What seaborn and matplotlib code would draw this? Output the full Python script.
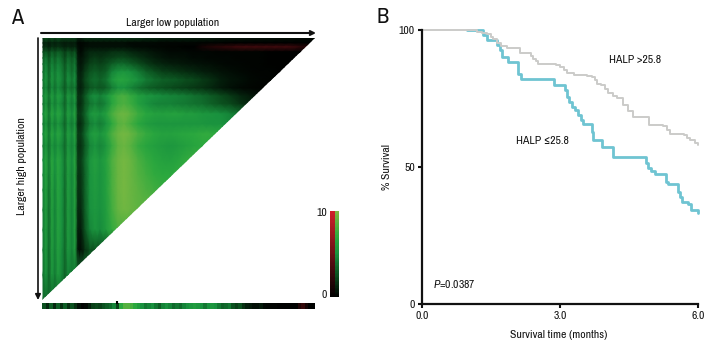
import numpy as np
import pandas as pd
import seaborn as sns
import matplotlib
matplotlib.use('Agg')
import matplotlib.pyplot as plt
from matplotlib.colors import LinearSegmentedColormap
from matplotlib.patches import Polygon

sns.set_theme(style='white')
plt.rcParams['font.family'] = ['Archivo Narrow', 'Liberation Sans', 'DejaVu Sans']
plt.rcParams['mathtext.fontset'] = 'custom'
plt.rcParams['mathtext.rm'] = 'Archivo Narrow'
plt.rcParams['mathtext.it'] = 'Archivo Narrow:italic'

# panel A, x-tile grid: cut positions along both sides of the triangle
low_cut = [43, 46, 49, 52, 55, 58, 62, 65, 68, 72, 75, 78, 81, 85, 90, 95, 100, 106, 112, 118, 124,
           130, 138, 146, 154, 162, 170, 178, 186, 194, 202, 210, 220, 230, 240, 250, 260, 270, 280, 290, 300, 315]
high_cut = [38, 43, 47, 52, 58, 64, 72, 80, 88, 96, 104, 114, 124, 134, 146, 160, 175, 190, 210, 230, 250, 275, 300]

# chi-square per cell, negative = red side of the scale
xtile_rows = [
    [2, 2.5, 2, 2.5, 2, 2.5, 2, 2, 2, 2, 2, 1, 1, 1.5, 1.5, 1.5, 1.5, 1.5, 1.5, 1.5, 1.5, 1.5, 1.5, 1.2, 1.2, 1, 1, 1, 1, .8, .8, .8, .6, .6, .6, .5, .5, .5, .4, .4, .3, .3],
    [1, 1.2, .8, 1.2, 1, 1.2, 1, .8, 1, .8, 1, .3, .2, .3, .4, .4, .4, .4, .4, .4, .4, .3, .3, .3, .3, .2, .2, .2, .2, .2, .1, .1, .1, 0, 0, 0, 0, 0, 0, 0, 0],
    [1.2, 1.5, 1, 1.5, 1.2, 1.5, 1.2, 1, 1.2, 1, 1.2, .4, .2, .4, .5, .5, .5, .5, .5, .5, .5, .4, .3, .3, .2, .2, .1, .1, 0, 0, -1, -1.5, -2, -2.5, -3, -3, -3, -3, -3, -3, -2],
    [2.2, 2.8, 2, 3, 2.3, 3, 2.5, 1.8, 2.6, 2, 2.6, .6, .3, .8, 1.2, 1.2, 1.2, 1.2, 1.5, 1.5, 1.5, 1.2, 1, .8, .6, .4, .3, .3, .3, .2, .2, .2, .1, .1, .1, .1, .1, 0, 0, 0, 0],
    [3, 4, 2.5, 4, 3, 4, 3.2, 2.2, 3.5, 2.8, 3.5, .8, .6, 1, 1.5, 1.8, 1.5, 1.8, 2, 2.2, 2.2, 2, 1.6, 1.2, .9, .7, .5, .5, .4, .3, .3, .2, .2, .2, .1, .1, .1, 0, 0, 0, 0],
    [3.5, 4.5, 3, 4.5, 3.5, 4.5, 3.8, 2.6, 4, 3.2, 4, 1, .7, 1.3, 2, 2.2, 2, 2.3, 3, 3.5, 3.5, 3, 2.4, 1.8, 1.4, 1.1, .9, .8, .7, .6, .5, .4, .3, .2, .2, .1, .1, 0, 0, 0],
    [3.5, 5, 3.2, 5, 4, 5, 4.2, 3, 4.5, 3.5, 4.5, 1.2, 1, 1.8, 2.6, 3, 2.6, 3, 4.5, 5.2, 5.5, 5, 4.2, 3.2, 2.5, 2, 1.8, 1.6, 1.4, 1.2, 1, .8, .6, .4, .3, .2, .1, .1, 0, 0],
    [4, 5.5, 3.5, 5.5, 4.2, 5.5, 4.5, 3.2, 5, 4, 5, 1.4, 1.2, 2.2, 3.2, 3.6, 3.2, 3.8, 5.5, 6.5, 6.5, 6, 5, 4.2, 3.6, 3.2, 3, 2.8, 2.4, 2.2, 1.8, 1.5, 1, .7, .5, .3, .2, .1, .1],
    [3.6, 4.8, 3, 4.8, 3.6, 4.8, 3.8, 2.8, 4.2, 3.4, 4.2, 1.2, 1, 1.8, 2.6, 3, 2.6, 3, 4.2, 5, 5.2, 4.6, 3.8, 3.2, 2.8, 2.5, 2.3, 2.1, 1.9, 1.7, 1.5, 1.2, .8, .5, .3, .2, .1, .1],
    [4.5, 6, 4, 6.2, 4.5, 6.2, 5, 3.5, 5.8, 4.5, 6, 1.6, 1.6, 2.8, 4.4, 5, 4.4, 5.2, 6.8, 7.8, 8.2, 7.4, 6.2, 5.6, 5.2, 4.8, 4.6, 4.4, 4.2, 3.8, 3.5, 3, 2.4, 1.8, 1.2, .8, .5],
    [3.8, 5.4, 3.4, 5.4, 4.2, 5.4, 4.4, 3.2, 5, 4, 5, 1.4, 1.4, 2.6, 3.8, 4.4, 3.8, 4.6, 6.6, 7.8, 8.2, 7.6, 6.2, 5.2, 4.6, 4.4, 4.4, 4.2, 4, 3.8, 3.6, 3.2, 2.6, 2.2, 1.6, 1.1],
    [4.8, 6.6, 4.2, 6.8, 5, 6.8, 5.4, 3.8, 6.2, 4.8, 6.6, 1.8, 1.9, 3.2, 5.2, 6, 5.2, 6.2, 8, 9, 9.3, 8.8, 7.6, 6.8, 6.4, 6.2, 6.4, 6.4, 6, 6, 5.6, 5.4, 5, 4.5, 3.8],
    [4, 5.4, 3.6, 5.4, 4.2, 5.4, 4.4, 3.2, 5, 4, 5.2, 1.4, 1.4, 2.6, 4.2, 4.8, 4.2, 5, 7, 8.4, 8.8, 8, 6.8, 6, 5.6, 5.4, 5.4, 5.4, 5.4, 5.4, 5.4, 5.2, 5.2, 4.8],
    [4.8, 6.6, 4.2, 6.8, 5, 6.8, 5.4, 3.8, 6.2, 4.8, 6.6, 1.8, 1.9, 3.4, 5.4, 6.2, 5.4, 6.4, 8.2, 9.2, 9.6, 9.2, 8.2, 7.4, 6.8, 6.4, 6.4, 6.6, 6.8, 7, 7.2, 7.2, 7],
    [4.2, 5.6, 3.8, 5.6, 4.5, 5.6, 4.6, 3.4, 5.4, 4.4, 5.6, 1.5, 1.5, 2.8, 4.6, 5.2, 4.6, 5.4, 7.4, 8.8, 9.2, 8.6, 7.4, 6.6, 6.2, 5.8, 5.6, 5.8, 6.2, 6.6, 7, 7],
    [4.8, 6.6, 4.2, 6.8, 5, 6.8, 5.4, 3.8, 6.2, 4.8, 6.6, 1.8, 1.9, 3.4, 5.4, 6.2, 5.4, 6.4, 8.2, 9.2, 9.6, 9.2, 8.2, 7.4, 6.8, 6.4, 6.2, 6.6, 7.2, 7.6],
    [4.5, 6.4, 4, 6.6, 4.8, 6.6, 5.2, 3.6, 6, 4.6, 6.4, 1.6, 1.7, 3.2, 5.2, 6, 5.2, 6.2, 8, 9.2, 9.6, 9.2, 8.4, 7.8, 7.2, 7, 7, 7.2],
    [4.4, 6.2, 3.8, 6.4, 4.6, 6.6, 5.2, 3.5, 6, 4.6, 6.4, 1.5, 1.6, 3.2, 5.2, 5.8, 5.2, 6.2, 8, 9.2, 9.6, 9.2, 8.7, 8.2, 7.8, 7.4],
    [4.2, 6, 3.6, 6.2, 4.5, 6.4, 5, 3.5, 5.8, 4.5, 6.2, 1.3, 1.3, 3, 5, 5.6, 5, 6, 7.8, 9, 9.4, 9.2, 8.8],
    [4.2, 6, 3.6, 6.2, 4.5, 6.4, 5, 3.5, 5.8, 4.5, 6.2, 1, .9, 2.6, 4.6, 5.4, 4.8, 5.8, 7.2, 8.2],
    [4, 5.8, 3.5, 6, 4.4, 6.2, 4.8, 3.4, 5.6, 4.4, 5.8, .6, .4, 1.5, 2.5, 2.5],
    [3.8, 5.4, 3.4, 5.6, 4.2, 5.8, 4.5, 3.2, 4.5, 4],
    [3.5],
]

# strip under the triangle
strip_values = [2.5, 1.2, 3, 1.2, 3, 1.5, 3, 1.5, 2.5, 1.5,
                .5, .1, .3,
                1, 2, 2.2, 2, 2.5, 3, 3.5, 4.5,
                2,
                7, 8.5, 8.5, 8, 7, 6,
                5, 4, 4.5, 5, 4, 3, 4.5, 5, 4.5, 3.5, 4, 3.5, 4.5, 5, 5.5, 6, 5.5, 5, 4, 5, 5.5, 5, 4, 3.2, 3.5, 4, 2.5, 2, 2.5, 1.5,
                1, .8, .5, .5, .8, .3, .2, .1, .1,
                0, 0, .05, 0, 0, 0, -1.5, -2.5, -1, 0, 0]

# panel B, survival curves
high_time = [0, 1.19, 1.3, 1.41, 1.5, 1.55, 1.63, 1.72, 1.84, 2.06, 2.13, 2.31, 2.37, 2.42, 2.48, 2.53, 2.82, 2.92, 3.0, 3.08,
             3.15, 3.3, 3.58, 3.69, 3.75, 3.80, 3.90, 3.98, 4.05, 4.14, 4.23, 4.37, 4.48, 4.59, 4.88, 4.94, 5.24, 5.32, 5.39,
             5.68, 5.75, 5.82, 5.92, 6.0]
high_surv = [100, 99.2, 98.8, 98.2, 97.4, 96.4, 94.9, 94, 93.3, 93.1, 91.6, 91.5, 90.5, 89.4, 88.5, 87.6, 87.4, 87, 86.4, 85.3,
             84.2, 83.5, 83, 82.8, 81.5, 80.3, 79.7, 78.3, 76.7, 75.8, 74.9, 72.4, 70.3, 68.2, 68.2, 65.1, 64.9, 63.5, 62.1,
             61.5, 60.6, 59.7, 58.8, 57.9]
low_time = [.98, 1.28, 1.34, 1.41, 1.60, 1.63, 1.70, 1.74, 1.88, 2.02, 2.08, 2.15, 2.84, 2.87, 3.02, 3.10, 3.15, 3.20, 3.25, 3.32,
            3.40, 3.45, 3.49, 3.67, 3.70, 3.72, 3.88, 3.92, 4.12, 4.16, 4.84, 4.87, 4.90, 4.98, 5.06, 5.24, 5.30, 5.35, 5.53, 5.57,
            5.60, 5.64, 5.78, 5.84, 5.97, 6.0]
low_surv = [100, 100, 97.9, 96.1, 96.1, 94.3, 92.5, 89.8, 88.2, 88.2, 83.7, 81.8, 81.8, 79.7, 79.7, 77.9, 75.5, 73.6, 71.8, 70.5,
            68.8, 67, 65.5, 65.5, 62.5, 59.7, 59.7, 57.3, 57.3, 53.4, 53.4, 51.4, 49.4, 48.4, 47.5, 47.5, 44.5, 43.7, 43.7, 40.9,
            39, 37.2, 36.6, 34.4, 34.4, 33]

W, H = 720, 360
TXT = 8.4
fig = plt.figure(figsize=(W / 100, H / 100), dpi=100)

# red - black - green scale
xtile_cmap = LinearSegmentedColormap.from_list('xtile', [
    (0.0, '#d0202a'), (0.5, '#000000'), (0.625, '#0b501e'),
    (0.75, '#18903e'), (0.85, '#2aa83e'), (1.0, '#80ba42')])


def px_axes(x0, y0, x1, y1):
    return fig.add_axes([x0 / W, 1 - y1 / H, (x1 - x0) / W, (y1 - y0) / H])


# overlay for the triangle, arrows and free text
ax0 = px_axes(0, 0, W, H)
ax0.set_xlim(0, W)
ax0.set_ylim(H, 0)
ax0.axis('off')

# short rows carry on past the diagonal, the clip cuts that away
grid = np.array([r + [r[-1]] * (len(low_cut) - len(r)) for r in xtile_rows])
mesh = ax0.pcolormesh(low_cut, high_cut, grid, shading='gouraud', cmap=xtile_cmap, vmin=-10, vmax=10)
tri = Polygon([(42, 38), (315, 38), (42, 300)], transform=ax0.transData, fc='none', ec='none')
ax0.add_patch(tri)
mesh.set_clip_path(tri)

ax0.annotate('', xy=(316, 33), xytext=(41, 33), arrowprops=dict(arrowstyle='->', lw=1.5, color='#111111', shrinkA=0, shrinkB=0, mutation_scale=7))
ax0.annotate('', xy=(38, 300), xytext=(38, 38), arrowprops=dict(arrowstyle='-|>', lw=1.2, color='#111111', shrinkA=0, shrinkB=0, mutation_scale=8))
ax0.plot([117, 117], [300.5, 304], color='black', lw=1.5, solid_capstyle='butt')

ax0.text(11, 18, 'A', fontsize=16, color='#111111', va='center', ha='left')
ax0.text(377, 17, 'B', fontsize=16, color='#111111', va='center', ha='left')
ax0.text(172.5, 23, 'Larger low population', fontsize=TXT, color='#111111', ha='center', va='center')
ax0.text(22, 166, 'Larger high population', fontsize=TXT, color='#111111', ha='center', va='center', rotation=90)
ax0.text(327, 213, '10', fontsize=TXT, color='#111111', ha='right', va='center')
ax0.text(327, 295, '0', fontsize=TXT, color='#111111', ha='right', va='center')

# strip
ax_strip = px_axes(42, 302.5, 315, 308.5)
sns.heatmap(np.array([strip_values]), ax=ax_strip, cmap=xtile_cmap, vmin=-10, vmax=10, cbar=False,
            xticklabels=False, yticklabels=False)

# scale bar, red half and green half
levels = np.linspace(10, 0, 64)
ax_scale = px_axes(330, 211, 339, 297)
sns.heatmap(np.column_stack([-levels, levels]), ax=ax_scale, cmap=xtile_cmap, vmin=-10, vmax=10, cbar=False,
            xticklabels=False, yticklabels=False)

# panel B
ax = px_axes(421.7, 29.5, 698.3, 304)
ax.patch.set_alpha(0)
curves = pd.concat([
    pd.DataFrame({'time': low_time, 'surv': low_surv, 'group': 'low'}),
    pd.DataFrame({'time': high_time, 'surv': high_surv, 'group': 'high'}),
])
sns.lineplot(data=curves[curves.group == 'low'], x='time', y='surv', ax=ax, color='#6fc4d2', lw=2.0,
             drawstyle='steps-post', estimator=None, sort=False, clip_on=False)
sns.lineplot(data=curves[curves.group == 'high'], x='time', y='surv', ax=ax, color='#cbcbc9', lw=1.4,
             drawstyle='steps-post', estimator=None, sort=False, clip_on=False)
ax.set_xlim(0, 6)
ax.set_ylim(0, 100)
ax.set_xticks([0, 3, 6], ['0.0', '3.0', '6.0'])
ax.set_yticks([0, 50, 100], ['0', '50', '100'])
ax.tick_params(axis='both', length=3, width=1.5, color='#111111', labelsize=TXT, labelcolor='#111111', pad=2, bottom=True, left=True)
for side in ['top', 'right']:
    ax.spines[side].set_visible(False)
for side in ['left', 'bottom']:
    ax.spines[side].set_linewidth(1.6)
    ax.spines[side].set_color('#111111')
ax.set_xlabel('')
ax.set_ylabel('')

ax0.set_zorder(5)
ax0.patch.set_alpha(0)
ax0.text(387, 167, '% Survival', fontsize=TXT, color='#111111', ha='center', va='center', rotation=90)
ax0.text(559, 335, 'Survival time (months)', fontsize=TXT, color='#111111', ha='center', va='center')
ax0.text(609, 60, 'HALP >25.8', fontsize=TXT, color='#111111', ha='left', va='center')
ax0.text(516, 141, 'HALP ≤25.8', fontsize=TXT, color='#111111', ha='left', va='center')
ax0.text(433, 284, r'$\mathit{P}$=0.0387', fontsize=TXT, color='#111111', ha='left', va='center')

fig.savefig('out.png', dpi=100)
